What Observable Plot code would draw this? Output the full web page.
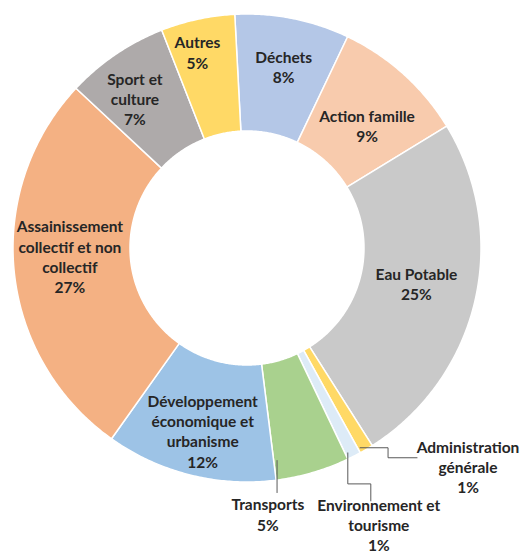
<!DOCTYPE html>
<html><head><meta charset="utf-8">
<script src="https://cdn.jsdelivr.net/npm/d3@7"></script>
<script src="https://cdn.jsdelivr.net/npm/@observablehq/plot@0.6"></script>
<style>body{margin:0;background:#fff} svg{display:block}</style>
</head><body><div id="chart"></div>
<script>
// ---- data (clockwise from 12 o'clock) ----
const categories = ["Déchets","Action famille","Eau Potable","Administration générale","Environnement et tourisme","Transports","Développement économique et urbanisme","Assainissement collectif et non collectif","Sport et culture","Autres"];
const labelText = ["Déchets","Action famille","Eau Potable","Administration\ngénérale","Environnement et\ntourisme","Transports","Développement\néconomique et\nurbanisme","Assainissement\ncollectif et non\ncollectif","Sport et\nculture","Autres"];
const shares = [7.9, 9.2, 24.7, 0.95, 0.95, 5.1, 11.8, 27.1, 7.1, 5.1];
const percentLabels = ["8%","9%","25%","1%","1%","5%","12%","27%","7%","5%"];
const colors = ["#B4C7E7","#F8CBAD","#C9C9C9","#FFD966","#DDEBF7","#A9D18E","#9DC3E6","#F4B183","#AEAAAA","#FFD966"];

// ---- layout ----
const W = 532, H = 555, cx = 247, cy = 248, R = 234, inner = 0.5, startDeg = -3, labelR = 0.75;
// label nudges in px from the ring-middle point at the slice mid-angle
const labelNudge = {
  "Déchets":[2,-10], "Action famille":[2,7], "Eau Potable":[-2,-5],
  "Administration générale":[131,67], "Environnement et tourisme":[51,120],
  "Transports":[-29,97], "Développement économique et urbanisme":[-2,12],
  "Assainissement collectif et non collectif":[-3,-10], "Sport et culture":[-14,-5], "Autres":[-13,-25]
};
// leader lines: start at fraction of slice angle & radius, then elbow moves in px
const leaders = [
  {cat:"Transports", frac:0.957, r:0.915, moves:[[0,32]]},
  {cat:"Environnement et tourisme", frac:0.82, r:0.973, moves:[[0,31],[23,0],[0,17]]},
  {cat:"Administration générale", frac:0.85, r:0.978, moves:[[28,0],[0,10],[29,0]]}
];

const rows = categories.map((cat,i)=>({cat, share:shares[i], text:labelText[i]+"\n"+percentLabels[i]}));
const a0 = startDeg*Math.PI/180;
const arcs = d3.pie().sort(null).value(d=>d.share).startAngle(a0).endAngle(a0+2*Math.PI)(rows);

const ringRows = arcs.flatMap(a=>{
  const n = Math.max(2, Math.ceil((a.endAngle-a.startAngle)/(Math.PI/360)));
  return d3.range(n+1).map(i=>{
    const t = a.startAngle+(a.endAngle-a.startAngle)*i/n;
    return {cat:a.data.cat, x1:Math.sin(t), y1:Math.cos(t), x2:inner*Math.sin(t), y2:inner*Math.cos(t)};
  });
});

const labelRows = arcs.map(a=>{
  const m = (a.startAngle+a.endAngle)/2;
  const [nx,ny] = labelNudge[a.data.cat];
  return {text:a.data.text, x:labelR*Math.sin(m)+nx/R, y:labelR*Math.cos(m)-ny/R};
});

const leaderRows = leaders.flatMap(L=>{
  const a = arcs.find(d=>d.data.cat===L.cat);
  const t = a.startAngle+(a.endAngle-a.startAngle)*L.frac;
  let x = L.r*Math.sin(t), y = L.r*Math.cos(t);
  const pts = [{cat:L.cat,x,y}];
  for (const [dx,dy] of L.moves){ x += dx/R; y -= dy/R; pts.push({cat:L.cat,x,y}); }
  return pts;
});

const chart = Plot.plot({
  width: W, height: H, margin: 0,
  style: {background:"#fff"},
  x: {type:"linear", domain:[-cx/R,(W-cx)/R], axis:null},
  y: {type:"linear", domain:[-(H-cy)/R, cy/R], axis:null},
  color: {domain:categories, range:colors},
  marks: [
    Plot.area(ringRows, {x1:"x1", y1:"y1", x2:"x2", y2:"y2", z:"cat", fill:"cat", stroke:"#ffffff", strokeWidth:1.5}),
    Plot.line(leaderRows, {x:"x", y:"y", z:"cat", stroke:"#595959", strokeWidth:1}),
    Plot.text(labelRows, {x:"x", y:"y", text:"text", fontFamily:"Lato", fontWeight:"bold", fontSize:15.5, fill:"#262626", lineHeight:1.31})
  ]
});
document.getElementById("chart").appendChild(chart);
</script>
</body></html>
